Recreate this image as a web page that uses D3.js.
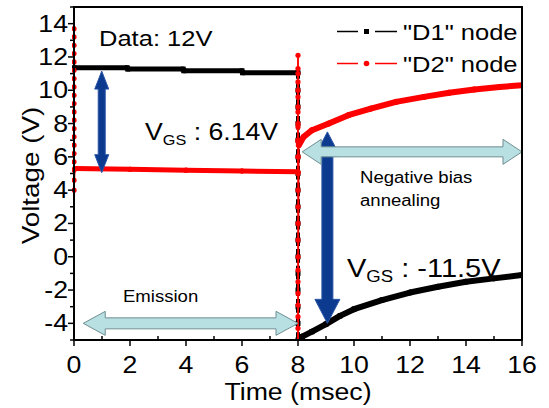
<!DOCTYPE html>
<html lang="en">
<head>
  <meta charset="UTF-8">
  <title>D1 / D2 node voltage</title>
  <style>
    body { margin: 0; background: #fff; }
    svg { display: block; font-family: "Liberation Sans", Arial, sans-serif; }
    text { fill: #000; }
  </style>
</head>
<body>
<svg width="549" height="408"></svg>

<script src="https://d3js.org/d3.v7.min.js"></script>
<script>
  // "D1" node (black) - time in msec, voltage in V
  const d1Time = [0, 1.9, 1.92, 3.9, 3.92, 6.0, 6.02, 8.0,
    8, 8, 8, 8, 8, 8, 8, 8,
    8, 8, 8, 8, 8, 8, 8, 8,
    8.03, 8.15, 8.5, 9, 9.5, 10, 11, 12, 13, 14, 15, 16];
  const d1Volt = [11.35, 11.35, 11.27, 11.27, 11.17, 11.17, 11.05, 11.05,
    10, 9, 8, 7, 6, 5, 4, 3,
    2, 1, 0, -1, -2, -3, -4, -5,
    -5.0, -4.8, -4.5, -4.05, -3.55, -3.15, -2.6, -2.15, -1.8, -1.5, -1.3, -1.1];

  // "D2" node (red)
  const d2Time = [0, 0, 0, 0, 0, 0, 0, 0, 0, 0,
    0, 0, 0, 0, 0, 0, 0, 0, 0, 0,
    0.03, 2, 4, 6, 8,
    8, 8, 8, 8, 8, 8, 8, 8, 8,
    8, 8, 8, 8, 8, 8, 8, 8, 8,
    8, 8, 8, 8, 8, 8, 8, 8, 8,
    8.03, 8.2, 8.5, 9.1, 9.8, 10.6, 11.5, 12.5, 13.4, 14.3, 15.2, 16];
  const d2Volt = [13.7, 13.2, 12.7, 12.2, 11.7, 11.2, 10.7, 10.2, 9.7, 9.2,
    8.7, 8.2, 7.7, 7.2, 6.7, 6.2, 5.7, 5.2, 4.6, 4.0,
    5.3, 5.25, 5.2, 5.15, 5.1,
    6, 7, 8, 9, 10, 11, 12.1, 11.3, 10.5,
    9.6, 8.7, 7.8, 6.9, 6.0, 5.0, 4.0, 3.0, 2.0,
    1.0, 0, -0.8, -1.5, -2.2, -2.9, -3.6, -4.3, -5.2,
    6.7, 7.2, 7.6, 8.0, 8.5, 8.9, 9.3, 9.6, 9.85, 10.05, 10.2, 10.3];

  const xTicks = [0, 2, 4, 6, 8, 10, 12, 14, 16];
  const yTicks = [-4, -2, 0, 2, 4, 6, 8, 10, 12, 14];
  const xMinor = [1, 3, 5, 7, 9, 11, 13, 15];
  const yMinor = [-5, -3, -1, 1, 3, 5, 7, 9, 11, 13, 15];

  const svg = d3.select("svg");
  const pL = 74, pR = 522, pT = 7, pB = 340;
  const stretch = 1.16; // text in the original is a bit wide

  const x = d3.scaleLinear().domain([0, 16]).range([pL, pR]);
  const y = d3.scaleLinear().domain([-5, 15]).range([pB, pT]);

  svg.append("defs").append("clipPath").attr("id", "plot")
    .append("rect").attr("x", pL - 2).attr("y", pT)
    .attr("width", pR - pL + 2).attr("height", pB - pT);

  const plot = svg.append("g").attr("clip-path", "url(#plot)");

  function drawSeries(ts, vs, color, marker) {
    const line = d3.line().x(d => x(d[0])).y(d => y(d[1]));
    for (let i = 0; i < ts.length - 1; i++) {
      const seg = [[ts[i], vs[i]], [ts[i + 1], vs[i + 1]]];
      const vertical = Math.abs(ts[i + 1] - ts[i]) < 0.05;
      const p = plot.append("path").attr("d", line(seg)).attr("fill", "none")
        .attr("stroke", color).attr("stroke-linecap", vertical ? "butt" : "round");
      if (vertical) {
        p.attr("stroke-width", color === "#000" ? 4 : 1.5);
        if (color === "#000") p.attr("stroke-dasharray", "6,3");
      } else {
        p.attr("stroke-width", ts[i] >= 8 ? 6 : 5);
      }
    }
    ts.forEach((t, i) => {
      if (marker === "square") {
        plot.append("rect").attr("x", x(t) - 2.5).attr("y", y(vs[i]) - 2.5)
          .attr("width", 5).attr("height", 5).attr("fill", color);
      } else {
        plot.append("circle").attr("cx", x(t)).attr("cy", y(vs[i]))
          .attr("r", 2.6).attr("fill", color);
      }
    });
  }

  drawSeries(d1Time, d1Volt, "#000", "square");
  drawSeries(d2Time, d2Volt, "#ff0000", "circle");

  // double headed arrow polygon from (x1,y1) to (x2,y2)
  function doubleArrow(x1, y1, x2, y2, shaft, head, headLen, fill, stroke) {
    const len = Math.hypot(x2 - x1, y2 - y1);
    const ux = (x2 - x1) / len, uy = (y2 - y1) / len;
    const nx = -uy, ny = ux;
    const pt = (a, b) => [x1 + ux * a + nx * b, y1 + uy * a + ny * b];
    const pts = [
      pt(0, 0), pt(headLen, head / 2), pt(headLen, shaft / 2),
      pt(len - headLen, shaft / 2), pt(len - headLen, head / 2), pt(len, 0),
      pt(len - headLen, -head / 2), pt(len - headLen, -shaft / 2),
      pt(headLen, -shaft / 2), pt(headLen, -head / 2)
    ];
    svg.append("polygon").attr("points", pts.map(p => p.join(",")).join(" "))
      .attr("fill", fill).attr("stroke", stroke).attr("stroke-width", 1);
  }

  const darkBlue = "#0b3a8e";
  doubleArrow(x(0.99), y(11.15), x(0.99), y(5.05), 7, 14, 18, darkBlue, "#2a55a8");
  doubleArrow(x(9.05), y(7.5), x(9.05), y(-4.0), 11, 25, 24, darkBlue, "#2a55a8");

  const lightFill = "#b8dfe2", lightStroke = "#6f8f92";
  doubleArrow(x(0.33), y(-4.0), x(8.0), y(-4.0), 11, 24, 22, lightFill, lightStroke);
  doubleArrow(x(8.15), y(6.3), x(16), y(6.3), 10, 25, 19, lightFill, lightStroke);

  // frame
  svg.append("rect").attr("x", pL).attr("y", pT)
    .attr("width", pR - pL).attr("height", pB - pT)
    .attr("fill", "none").attr("stroke", "#000").attr("stroke-width", 2);

  // ticks
  const g = svg.append("g").attr("stroke", "#000").attr("stroke-width", 1.5);
  xTicks.forEach(v => g.append("line").attr("x1", x(v)).attr("x2", x(v)).attr("y1", pB).attr("y2", pB + 6));
  xMinor.forEach(v => g.append("line").attr("x1", x(v)).attr("x2", x(v)).attr("y1", pB).attr("y2", pB - 4));
  yTicks.forEach(v => g.append("line").attr("x1", pL - 6).attr("x2", pL).attr("y1", y(v)).attr("y2", y(v)));
  yMinor.forEach(v => g.append("line").attr("x1", pL - 4).attr("x2", pL).attr("y1", y(v)).attr("y2", y(v)));

  // text helper: widened text placed at (xp, yp)
  function label(xp, yp, str, size, anchor, rot) {
    return svg.append("text")
      .attr("transform", `translate(${xp},${yp})${rot ? " rotate(" + rot + ")" : ""} scale(${stretch},1)`)
      .attr("text-anchor", anchor || "start")
      .style("font-size", size + "px")
      .text(str);
  }

  xTicks.forEach(v => label(x(v), 373, v, 23, "middle"));
  yTicks.forEach(v => label(68, y(v) + 8, v, 23, "end"));

  label(x(8), 400, "Time (msec)", 23, "middle");
  label(39, (pT + pB) / 2 + 2, "Voltage (V)", 24, "middle", -90);

  // annotations
  label(99, 46, "Data: 12V", 22);

  function vgs(xp, yp, size, value) {
    const t = label(xp, yp, null, size);
    t.append("tspan").text("V");
    t.append("tspan").attr("dy", 5).style("font-size", Math.round(size * 0.62) + "px").text("GS");
    t.append("tspan").attr("dy", -5).text(" : " + value);
  }
  vgs(145, 140, 23, "6.14V");
  vgs(347, 277, 25, "-11.5V");

  label(360, 183, "Negative bias", 16);
  label(360, 206, "annealing", 16);
  label(123, 302, "Emission", 16);

  // legend
  const legend = [
    { name: "\"D1\" node", color: "#000", marker: "square", yp: 31.5 },
    { name: "\"D2\" node", color: "#ff0000", marker: "circle", yp: 63.5 }
  ];
  legend.forEach(l => {
    svg.append("line").attr("x1", 337).attr("x2", 358).attr("y1", l.yp).attr("y2", l.yp)
      .attr("stroke", l.color).attr("stroke-width", 1.5);
    svg.append("line").attr("x1", 375).attr("x2", 397).attr("y1", l.yp).attr("y2", l.yp)
      .attr("stroke", l.color).attr("stroke-width", 1.5);
    if (l.marker === "square") {
      svg.append("rect").attr("x", 364).attr("y", l.yp - 2.5).attr("width", 5).attr("height", 5).attr("fill", l.color);
    } else {
      svg.append("circle").attr("cx", 366.5).attr("cy", l.yp).attr("r", 2.8).attr("fill", l.color);
    }
    label(403, l.yp + 8, l.name, 22);
  });
</script>
</body>
</html>
